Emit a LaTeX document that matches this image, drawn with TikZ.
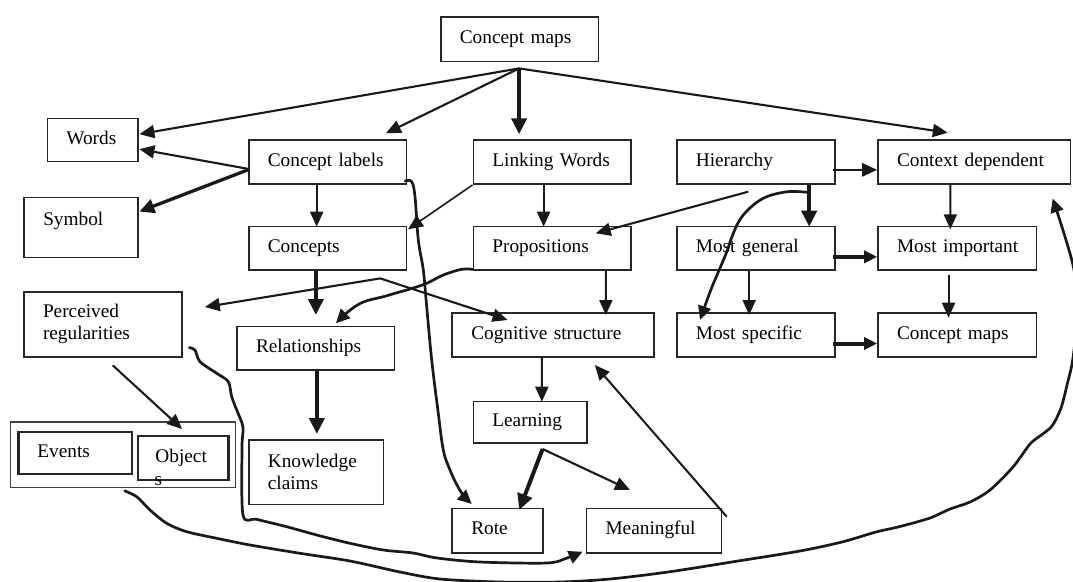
\documentclass[tikz,border=0pt]{standalone}
\usepackage{fontspec}
\setmainfont{Liberation Serif}
\usetikzlibrary{arrows.meta,calc}
\begin{document}
\begin{tikzpicture}[x=1pt,y=-1pt,
  box/.style={draw=black!85, line width=1.7pt, rectangle, inner xsep=19pt, inner ysep=0pt,
    align=left, font=\fontsize{19.3pt}{22pt}\selectfont, text=black, anchor=north west},
  one/.style={text height=13pt, text depth=4.5pt},
  con/.style={line width=2.1pt, draw=black!90, -{Triangle[length=15pt,width=13pt]}},
  thk/.style={line width=4pt, draw=black!90, -{Triangle[length=16pt,width=15pt]}},
  thkb/.style={line width=3.3pt, draw=black!90, -{Triangle[length=15pt,width=14pt]}},
  thkr/.style={line width=4pt, draw=black!90, -{Triangle[length=13pt,width=12pt]}},
  wig/.style={line width=2.7pt, draw=black!90, line join=round, line cap=round},
  wigtip/.style={wig, -{Triangle[length=14pt,width=13pt]}}
]
\useasboundingbox (0,0) rectangle (1073,581);
\clip (0,0) rectangle (1073,581);

% boxes
\node[box, one, text width=119.5pt, minimum height=44.7pt] (cm) at (440,16) {\mbox{Concept maps}};
\node[box, one, text width=52.5pt, minimum height=43pt] (w) at (46.5,117.7) {Words};
\node[box, text height=27.8pt, text depth=32.2pt, text width=75.6pt, minimum height=60pt] (sy) at (23.4,196.7) {Symbol};
\node[box, one, text width=119.6pt, minimum height=44pt] (cl) at (248,139.3) {\mbox{Concept labels}};
\node[box, one, text width=119.5pt, minimum height=44pt] (lw) at (472.5,139.3) {\mbox{Linking Words}};
\node[box, one, text width=120pt, minimum height=44pt] (hi) at (676,139.3) {Hierarchy};
\node[box, one, text width=154.3pt, minimum height=44pt] (cd) at (877.2,139.3) {\mbox{Context dependent}};
\node[box, one, text width=119.6pt, minimum height=43.6pt] (co) at (248,225.7) {Concepts};
\node[box, one, text width=119.5pt, minimum height=43.6pt] (pr) at (472.5,225.7) {Propositions};
\node[box, one, text width=120pt, minimum height=43.6pt] (mg) at (676,225.7) {\mbox{Most general}};
\node[box, one, text width=120.5pt, minimum height=43.6pt] (mi) at (877.2,225.7) {\mbox{Most important}};
\node[box, line width=2pt, text width=119.8pt, minimum height=65.3pt] (pe) at (23,290.7) {Perceived\\regularities};
\node[box, one, text width=119.4pt, minimum height=43.6pt] (re) at (236.2,325.7) {Relationships};
\node[box, one, text width=163.8pt, minimum height=43.7pt] (cs) at (451.4,312.3) {\mbox{Cognitive structure}};
\node[box, one, text width=120pt, minimum height=43.7pt] (ms) at (676,312.3) {\mbox{Most specific}};
\node[box, one, text width=120.5pt, minimum height=43.7pt] (cm2) at (877.2,312.3) {\mbox{Concept maps}};
\node[box, one, text width=75.5pt, minimum height=41.6pt] (le) at (472.5,400.7) {Learning};
\node[box, line width=1.6pt, draw=black!75, text width=186.9pt, minimum height=65.4pt] (ou) at (9.6,421.3) {};
\node[box, one, line width=2.3pt, text width=75.7pt, minimum height=41.7pt] (ev) at (17.2,431) {Events};
\node[box, one, line width=2.3pt, inner xsep=17.6pt, text width=55.4pt, minimum height=44.3pt] (ob) at (136.7,434.7) {Object};
\node[font=\fontsize{19.3pt}{22pt}\selectfont, text=black, inner sep=0pt, anchor=base west] (obs) at (154.3,485) {s};
\node[box, text width=96.6pt, minimum height=64.7pt] (kc) at (248,439) {Knowledge\\claims};
\node[box, one, text width=52.9pt, minimum height=44.5pt] (ro) at (451.4,507.5) {Rote};
\node[box, one, text width=97pt, minimum height=44.5pt] (mf) at (585.7,507.5) {Meaningful};

% straight connectors
\coordinate (A) at ($(cm.south)+(-0.5,6)$);
\draw[con] (A) -- ($(w.east)+(0.7,-5.9)$);
\draw[con] (A) -- ($(cl.north)+(58.2,-6)$);
\draw[thk] (A) -- ($(lw.north)+(-33,-5)$);
\draw[con] (A) -- ($(cd.north)+(-26.4,-6.6)$);
\coordinate (B) at ($(cl.west)+(1.7,7)$);
\draw[con] (B) -- ($(w.east)+(0.7,9.1)$);
\draw[thkb] (B) -- ($(sy.east)+(0.7,-16)$);
\draw[con] ($(cl.south)+(-11,0)$) -- ($(co.north)+(-11,1)$);
\draw[con, line width=1.6pt] (lw.south west) -- ($(co.north east)+(0.7,3.6)$);
\draw[con] ($(lw.south)+(-8.5,0)$) -- ($(pr.north)+(-8.5,1)$);
\draw[con] ($(hi.south)+(-7.6,6.7)$) -- ($(pr.north east)+(-36,7.6)$);
\draw[con, line width=2.6pt] ($(hi.east)+(-3,7.7)$) -- ($(cd.west)+(0,7.7)$);
\draw[thk] ($(hi.south)+(53.3,0)$) -- ($(mg.north)+(53.3,1)$);
\draw[con] ($(cd.south)+(-23.85,0)$) -- ($(mi.north)+(-6.95,3.6)$);
\draw[thkr] ($(mg.east)+(-2.3,8.5)$) -- ($(mi.west)+(0,8.5)$);
\draw[con] ($(mg.south)+(-6.7,0)$) -- ($(ms.north)+(-6.7,2.7)$);
\draw[con] ($(mi.south)+(-8.75,4)$) -- ($(cm2.north)+(-8.75,5.4)$);
\draw[thkr] ($(ms.east)+(-2.3,8.5)$) -- ($(cm2.west)+(0,8.5)$);
\draw[con] ($(pr.south)+(53.75,0)$) -- ($(cs.north)+(52.7,2.7)$);
\coordinate (V) at ($(co.south)+(52.5,7.4)$);
\draw[con] (V) -- ($(pe.east)+(22,-17.3)$);
\draw[con] (V) -- ($(cs.north)+(-45.6,7.7)$);
\draw[thk] ($(co.south)+(-11.8,0)$) -- ($(re.north)+(0.1,-10.7)$);
\draw[thk] ($(re.south)+(1.1,0)$) -- ($(kc.north)+(0.7,-5)$);
\draw[con] ($(cs.south)+(-11.3,0)$) -- ($(le.north)+(11.75,1)$);
\coordinate (L) at ($(le.south)+(12.5,5)$);
\draw[thk] (L) -- ($(ro.north)+(21.5,2.5)$);
\draw[con] (L) -- ($(mf.north west)+(44.3,-17.5)$);
\draw[con, line width=2pt] ($(mf.north east)+(4.3,9.2)$) -- ($(cs.south)+(41.7,7.3)$);
\draw[con] ($(pe.south)+(9.8,7.3)$) -- ($(ob.north)+(-1,-5.7)$);

% curved connectors
\coordinate (h1) at ($(hi.south)+(53.3,7.4)$);
\coordinate (h2) at ($(ms.north west)+(24,7.7)$);
\draw[wigtip] plot[smooth, tension=0.6] coordinates {(h1) (795,191.5) (783.3,192.3) (766.7,196.7) (753.3,205) (741,218) (733,234) (726.7,252) (718.3,272) (710,292) (h2)};

\coordinate (p1) at ($(pr.south west)+(0,-1.6)$);
\coordinate (p2) at ($(re.north)+(20.1,-2.4)$);
\draw[wigtip] plot[smooth, tension=0.6] coordinates {(p1) (461.7,269.3) (443.3,275) (426.7,283.3) (410,289) (396,293) (383.3,296.7) (363.3,302) (349,311) (p2)};

\coordinate (c1) at ($(cl.south east)+(-2,-4)$);
\coordinate (c2) at ($(ro.north west)+(20.3,-3.5)$);
\draw[wigtip] plot[smooth, tension=0.6] coordinates {(c1) (411.7,181.7) (415,196.7) (418.3,240) (423.3,270) (426.7,306.7) (431.7,360) (438,411) (443.3,450) (450,470) (457,485) (463,495) (c2)};

\coordinate (r1) at ($(pe.east)+(6.5,23.3)$);
\coordinate (r2) at ($(mf.south west)+(-3,-2)$);
\draw[wigtip] plot[smooth, tension=0.5] coordinates {(r1) (195,350) (200,361.7) (216.7,373.3) (228.3,381.7) (231.7,396.7) (236.7,410) (243,427) (242,447) (243,515) (256.7,519.3) (286.7,526.7) (316.7,535) (350,543.3) (383.3,550) (413,553) (437,558) (480,562) (547,563) (567,558) (r2)};

\coordinate (e1) at ($(ou.south)+(2,2.6)$);
\coordinate (e2) at ($(cd.south east)+(-18.5,13.4)$);
\draw[wigtip] plot[smooth, tension=0.5] coordinates {(e1) (136.7,496.7) (150,510) (166.7,523.3) (186.7,531.7) (216.7,538.3) (250,545) (300,553.3) (350,561) (400,572) (440,579) (500,582) (560,582) (610,579) (668,572) (738,561) (800,551) (842,542) (876,532) (900,526.5) (930,518) (950,509) (970,502) (990,490) (1013,467) (1030,444) (1040,436) (1052,426) (1061,408) (1067,385) (1073,358) (1077,310) (1073,265) (e2)};
\end{tikzpicture}
\end{document}
